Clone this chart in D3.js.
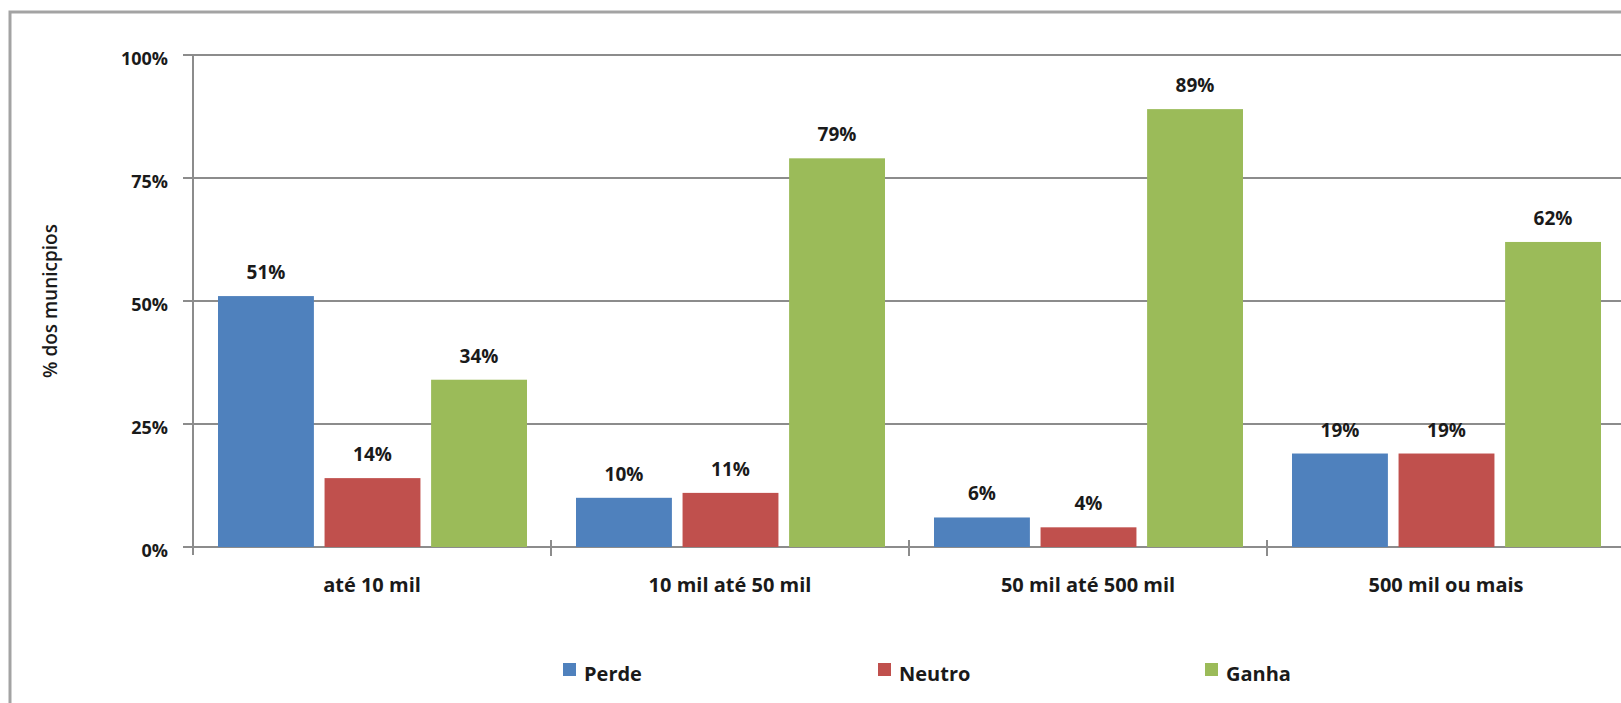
<!DOCTYPE html>
<html>
<head>
<meta charset="utf-8">
<script src="https://cdn.jsdelivr.net/npm/d3@7"></script>
<style>
  body { margin: 0; background: #fff; }
  text { font-family: "Open Sans", "Noto Sans", sans-serif; font-weight: 700; fill: #1a1a1a; }
  .grid line { stroke: #8c8c8c; stroke-width: 2; }
  .axis-line { stroke: #8c8c8c; stroke-width: 2; }
</style>
</head>
<body>
<div class="chart-container"></div>
<script>
const categories = ['até 10 mil', '10 mil até 50 mil', '50 mil até 500 mil', '500 mil ou mais']
const series = ['Perde', 'Neutro', 'Ganha']
const colours = ['#4f81bd', '#c0504d', '#9bbb59']

const perde = [51, 10, 6, 19]
const neutro = [14, 11, 4, 19]
const ganha = [34, 79, 89, 62]

const yTicks = [0, 25, 50, 75, 100]
const yTitle = '% dos municpios'

const width = 1621
const height = 703

const margin = {top: 55, bottom: 156, left: 193, right: -4}

const svg = d3.select('.chart-container')
.append('svg')
.attr('width', width)
.attr('height', height)

// outer frame (only top and left edges are inside the picture)
svg.append('path')
.attr('d', `M10,${height} L10,12 L${width},12`)
.attr('fill', 'none')
.attr('stroke', '#a3a3a3')
.attr('stroke-width', 3)

const x0 = d3.scaleBand()
.domain(categories)
.range([margin.left, width - margin.right])
.paddingInner(0)
.paddingOuter(0)

const x1 = d3.scaleBand()
.domain(series)
.range([25, x0.bandwidth() - 24])
.paddingInner(0.1)

const yScale = d3.scaleLinear()
.domain([0, 100])
.range([height - margin.bottom, margin.top])

const rows = categories.map((c, i) => ({
	category: c,
	values: [perde[i], neutro[i], ganha[i]].map((v, j) => ({series: series[j], value: v, colour: colours[j]}))
}))

// gridlines
const grid = svg.append('g').attr('class', 'grid')
grid.selectAll('line')
.data(yTicks)
.enter()
.append('line')
.attr('x1', margin.left - 10)
.attr('x2', width)
.attr('y1', d => yScale(d))
.attr('y2', d => yScale(d))

// y axis line
svg.append('line')
.attr('class', 'axis-line')
.attr('x1', margin.left)
.attr('x2', margin.left)
.attr('y1', yScale(100))
.attr('y2', yScale(0) + 8)

// category ticks
svg.append('g')
.selectAll('line')
.data(categories.slice(1))
.enter()
.append('line')
.attr('class', 'axis-line')
.attr('x1', d => x0(d))
.attr('x2', d => x0(d))
.attr('y1', yScale(0) - 7)
.attr('y2', yScale(0) + 9)

// y tick labels
svg.append('g')
.selectAll('text')
.data(yTicks)
.enter()
.append('text')
.attr('text-anchor', 'end')
.attr('x', margin.left - 25)
.attr('y', d => yScale(d) + 10)
.style('font-size', '18px')
.text(d => d + '%')

// y title
svg.append('text')
.attr('text-anchor', 'middle')
.attr('transform', `translate(57,${(yScale(0) + yScale(100)) / 2}) rotate(-90)`)
.style('font-size', '19px')
.style('font-weight', 600)
.text(yTitle)

// bars
const groups = svg.append('g')
.selectAll('g')
.data(rows)
.enter()
.append('g')
.attr('transform', d => `translate(${x0(d.category)},0)`)

groups.selectAll('rect')
.data(d => d.values)
.enter()
.append('rect')
.attr('x', d => x1(d.series))
.attr('width', x1.bandwidth())
.attr('y', d => yScale(d.value))
.attr('height', d => yScale(0) - yScale(d.value))
.attr('fill', d => d.colour)

groups.selectAll('text.value')
.data(d => d.values)
.enter()
.append('text')
.attr('class', 'value')
.attr('text-anchor', 'middle')
.attr('x', d => x1(d.series) + x1.bandwidth() / 2)
.attr('y', d => yScale(d.value) - 17)
.style('font-size', '19px')
.text(d => d.value + '%')

// category labels
svg.append('g')
.selectAll('text')
.data(categories)
.enter()
.append('text')
.attr('text-anchor', 'middle')
.attr('x', d => x0(d) + x0.bandwidth() / 2)
.attr('y', yScale(0) + 45)
.style('font-size', '20px')
.text(d => d)

// legend
const legendX = [563, 878, 1205]
const legend = svg.append('g')
.selectAll('g')
.data(series)
.enter()
.append('g')
.attr('transform', (d, i) => `translate(${legendX[i]},663)`)

legend.append('rect')
.attr('width', 13)
.attr('height', 13)
.attr('fill', (d, i) => colours[i])

legend.append('text')
.attr('x', 21)
.attr('y', 18)
.style('font-size', '20px')
.text(d => d)

</script>
</body>
</html>
